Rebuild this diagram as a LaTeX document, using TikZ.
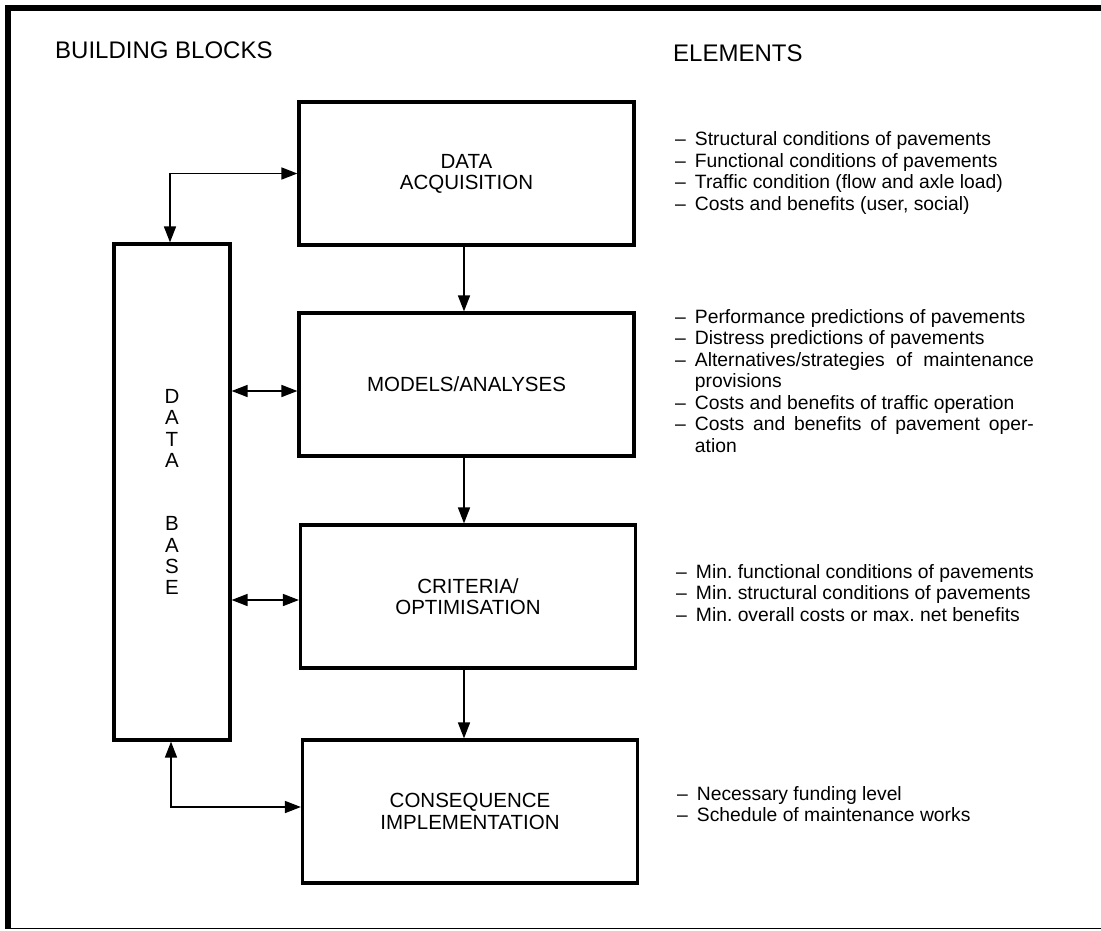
\documentclass[tikz,border=0pt]{standalone}
\usepackage{fontspec}
\setmainfont{Liberation Sans}
\usetikzlibrary{arrows.meta}

\begin{document}
\begin{tikzpicture}[x=1pt, y=-1pt,
    blk/.style={draw, line width=3.2pt, minimum width=335pt, minimum height=143pt,
      align=center, font=\fontsize{20.5}{21.2}\selectfont},
    arr/.style={line width=1.6pt, -{Triangle[length=16pt, width=12pt]}},
    dbl/.style={line width=1.6pt, {Triangle[length=16pt, width=12pt]}-{Triangle[length=16pt, width=12pt]}},
    lst/.style={anchor=base west, inner sep=0pt, font=\fontsize{19.3}{21.5}\selectfont\frenchspacing},
    head/.style={anchor=base west, inner sep=0pt, font=\fontsize{24}{28}\selectfont}]
      \useasboundingbox (0,0) rectangle (1101,930);
      \fill (5,5) rectangle (1101,11);
      \fill (5,5) rectangle (11,929);
      \draw[line width=1.5pt] (11,928.5) -- (1101,928.5);

      \node[head] (bb) at (55,58) {BUILDING BLOCKS};
      \node[head] (el) at (673,61) {ELEMENTS};

      \node[blk] (acq) at (466.5,173.5) {DATA\\ACQUISITION};
      \node[blk] (mod) at (466.5,384.5) {MODELS/ANALYSES};
      \node[blk] (crit) at (468,596.5) {CRITERIA/\\OPTIMISATION};
      \node[blk] (cons) at (470,811.5) {CONSEQUENCE\\IMPLEMENTATION};
      \node[blk, minimum width=116pt, minimum height=496pt] (db) at (172,492)
        {D\\A\\T\\A\\[42.4pt]B\\A\\S\\E};

      \draw[dbl] ([xshift=-2pt]db.north) |- (acq.west);
      \draw[arr] ([xshift=-2.5pt]acq.south) -- ([xshift=-2.5pt]mod.north);
      \draw[arr] ([xshift=-2.5pt]mod.south) -- ([xshift=-4pt]crit.north);
      \draw[arr] ([xshift=-4pt]crit.south) -- ([xshift=-6pt]cons.north);
      \draw[dbl] (db.east |- 0,391) -- (mod.west |- 0,391);
      \draw[dbl] (db.east |- 0,600) -- (crit.west |- 0,600);
      \draw[dbl] ([xshift=-1pt]db.south) |- (cons.west |- 0,807);

      \node[lst] (acqlist) at (675,145.5) {\begin{tabular}[t]{@{}l@{\hspace{9pt}}l@{}}
        \textendash & Structural conditions of pavements\\
        \textendash & Functional conditions of pavements\\
        \textendash & Traffic condition (flow and axle load)\\
        \textendash & Costs and benefits (user, social)
      \end{tabular}};
      \node[lst] (modlist) at (675,323) {\begin{tabular}[t]{@{}l@{\hspace{9pt}}l@{}}
        \textendash & Performance predictions of pavements\\
        \textendash & Distress predictions of pavements\\
        \textendash & \makebox[339pt][s]{Alternatives/strategies of maintenance}\\
                    & provisions\\
        \textendash & Costs and benefits of traffic operation\\
        \textendash & \makebox[339pt][s]{Costs and benefits of pavement oper-}\\
                    & ation
      \end{tabular}};
      \node[lst] (critlist) at (676,578) {\begin{tabular}[t]{@{}l@{\hspace{9pt}}l@{}}
        \textendash & Min. functional conditions of pavements\\
        \textendash & Min. structural conditions of pavements\\
        \textendash & Min. overall costs or max. net benefits
      \end{tabular}};
      \node[lst] (conslist) at (677,800) {\begin{tabular}[t]{@{}l@{\hspace{9pt}}l@{}}
        \textendash & Necessary funding level\\
        \textendash & Schedule of maintenance works
      \end{tabular}};

    \end{tikzpicture}
\end{document}
